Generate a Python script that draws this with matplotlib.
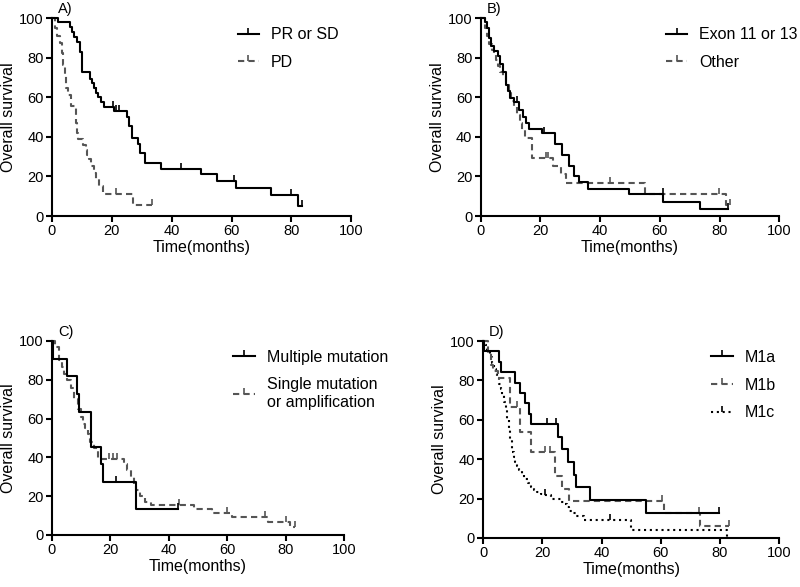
import numpy as np
import matplotlib
matplotlib.use('Agg')
import matplotlib.pyplot as plt
from matplotlib.lines import Line2D

plt.rcParams['font.family'] = ['Liberation Sans', 'DejaVu Sans']

# Panel A: response
a_pr_t = [0, 1.9, 6.1, 6.8, 7.5, 8.3, 9.2, 10.0, 12.8, 13.4, 14.0, 14.6, 15.5, 16.5, 17.5, 20.7,
          25.1, 25.7, 26.9, 28.7, 29.5, 31.0, 36.3, 49.7, 55.0, 61.5, 73.2, 82.3]
a_pr_s = [100, 98.3, 95.5, 93, 90.5, 88, 83, 72.6, 69.5, 67, 64.5, 62, 60, 57.5, 55, 53.3,
          50, 45.5, 39.5, 36.5, 31.9, 26.9, 23.9, 21, 17.6, 14.3, 10.6, 5.2]
a_pr_c = [14.8, 20.5, 21.3, 22.3, 43.2, 60.9, 79.9, 83.5]
a_pd_t = [0, 0.9, 1.7, 2.6, 3.2, 3.7, 4.2, 4.8, 5.3, 6.4, 7.9, 8.4, 8.8, 10.3, 11.2, 11.8,
          12.3, 13.1, 14.0, 14.8, 15.7, 17.0, 27.2]
a_pd_s = [100, 95, 91, 87.4, 82.4, 76.5, 70.6, 64.7, 61.3, 55.5, 47, 42, 38.7, 36, 33.6, 31,
          28.6, 25.2, 21.8, 18.5, 15, 10.9, 5.5]
a_pd_c = [21.5, 33.3]

# Panel B: exon
b_ex_t = [0, 1.3, 2.2, 2.8, 3.4, 4.5, 5.8, 6.5, 7.3, 8.4, 9.0, 9.8, 11.2, 12.9, 14.3, 15.1,
          16.2, 20.4, 24.8, 27.1, 29.4, 31.3, 32.8, 36.0, 49.6, 61.2, 73.3]
b_ex_s = [100, 98, 95, 90, 86, 83.5, 81, 77, 72.6, 66, 63, 59.5, 57.5, 53.5, 50, 47,
          44.2, 41.8, 36.5, 30.9, 25.2, 20.2, 17.1, 13.8, 11, 7.2, 3.5]
b_ex_c = [12.0, 21.2, 61.0, 83.0]
b_ot_t = [0, 1.5, 2.2, 2.9, 3.6, 4.4, 5.0, 5.8, 6.6, 7.6, 8.5, 9.5, 10.2, 11.1, 12.0, 13.0,
          13.8, 14.8, 17.0, 24.1, 26.9, 28.6, 55.0, 82.2]
b_ot_s = [100, 95, 91, 87, 84, 82, 79, 76, 73, 70.6, 66, 62, 58, 55, 51, 47,
          43.4, 39.5, 29.4, 25.2, 21, 16.8, 11.3, 5.6]
b_ot_c = [22.0, 22.6, 43.3, 55.0, 79.9, 83.6]

# Panel C: mutation
c_mu_t = [0, 0.5, 5.0, 8.4, 9.1, 13.3, 16.7, 17.3, 28.6]
c_mu_s = [100, 90.9, 81.8, 72.7, 63.6, 45.5, 36.4, 27.3, 13.6]
c_mu_c = [21.8, 43.2]
c_si_t = [0, 1.1, 2.5, 3.3, 4.2, 5.3, 6.5, 7.7, 8.75, 9.9, 10.5, 11.4, 12.2, 13.0, 14.4, 15.9,
          24.7, 25.8, 27.0, 28.0, 28.9, 30.3, 32.0, 33.8, 48.5, 54.8, 61.6, 74.1, 81.5]
c_si_s = [100, 97, 90, 86.5, 83, 80, 76, 70, 65, 61, 57, 55, 52, 48, 45, 39.3,
          36.8, 33.3, 29.9, 26.5, 23.4, 20, 17, 15.4, 13.6, 11.4, 9.1, 6.8, 3.9]
c_si_c = [19.4, 21.0, 22.2, 43.4, 60.0, 73.0, 80.0, 83.2]

# Panel D: M stage
d_a_t = [0, 0.2, 5.3, 6.1, 10.9, 12.6, 14.0, 15.4, 16.0, 25.3, 26.6, 28.8, 30.6, 31.5, 36.0, 54.9]
d_a_s = [100, 94.7, 89.5, 84.2, 78.9, 73.7, 68.4, 63.2, 57.9, 51.5, 45.1, 38.6, 32.2, 25.8, 19.3, 12.9]
d_a_c = [21.6, 24.7, 79.7]
d_b_t = [0, 1.6, 2.5, 3.4, 5.0, 9.2, 12.6, 16.3, 24.3, 26.6, 29.0, 61.0, 73.3]
d_b_s = [100, 94, 88, 85, 81.3, 66.7, 53.8, 43.5, 31.5, 25, 18.8, 12.5, 6.3]
d_b_c = [11.5, 21.0, 22.5, 60.5, 73.0, 83.2]
d_c_t = [0, 0.7, 1.4, 2.2, 3.0, 3.6, 4.2, 4.8, 5.3, 5.9, 6.4, 7.0, 7.6, 8.2, 8.7, 9.2, 9.8,
         10.4, 10.9, 11.5, 12.1, 13.0, 13.8, 15.0, 16.0, 17.2, 18.3, 19.4, 20.5, 22.8, 26.2,
         27.3, 28.2, 29.0, 30.1, 31.2, 34.0, 49.8, 82.3]
d_c_s = [100, 98, 95.4, 92, 88.6, 86, 83.5, 81, 78.4, 75.5, 72.5, 69, 64.9, 60, 54.7, 49.6, 43.6,
         41, 38.5, 36.5, 34.3, 32, 30, 27.8, 25.8, 24.5, 23.3, 22.5, 21.6, 19.9, 18.5,
         17.3, 15.5, 13.9, 12.5, 11.4, 9.3, 4.2, 0]
d_c_c = [21.0, 43.0]

ticks = [0, 20, 40, 60, 80, 100]

SOLID = dict(color='black', ls='-', lw=1.5)
DASHED = dict(color='#555555', ls=(0, (3, 2)), lw=1.5)
DOTTED = dict(color='black', ls=(0, (1, 1.8)), lw=1.5)


def draw_km(ax, t, s, cens, style):
    # extend the last step to the last censored time
    end = max(max(t), max(cens))
    tt = list(t) + [end]
    ss = list(s) + [s[-1]]
    ax.plot(tt, ss, drawstyle='steps-post', clip_on=False, **style)
    idx = np.searchsorted(t, cens, side='right') - 1
    cy = np.array(s)[idx]
    ax.plot(cens, cy, ls='none', marker=2, ms=4.5, mew=1.2, color=style['color'], clip_on=False)


def setup(ax, letter):
    ax.set_xlim(0, 100)
    ax.set_ylim(0, 100)
    ax.set_xticks(ticks)
    ax.set_yticks(ticks)
    ax.spines['top'].set_visible(False)
    ax.spines['right'].set_visible(False)
    for sp in ('left', 'bottom'):
        ax.spines[sp].set_linewidth(1.5)
    ax.tick_params(direction='out', length=4, width=1.5, labelsize=10.5, pad=2)
    ax.set_xlabel('Time(months)', fontsize=11.5, labelpad=1)
    ax.set_ylabel('Overall survival', fontsize=11.5, labelpad=2)
    ax.text(0.02, 1.012, letter, transform=ax.transAxes, fontsize=10.5, va='bottom', ha='left')


def legend(ax, styles, labels, x, y):
    handles = [Line2D([], [], marker=2, ms=4, mew=1.2, **st) for st in styles]
    ax.legend(handles, labels, loc='upper left', bbox_to_anchor=(x, y), frameon=False,
              fontsize=11.5, handlelength=1.35, handletextpad=0.75, labelspacing=0.8,
              borderpad=0, borderaxespad=0, numpoints=1)


fig = plt.figure(figsize=(8, 5.87), dpi=100)
axA = fig.add_axes([0.065, 0.632, 0.374, 0.337])
axB = fig.add_axes([0.601, 0.632, 0.373, 0.337])
axC = fig.add_axes([0.065, 0.0886, 0.365, 0.3305])
axD = fig.add_axes([0.604, 0.0835, 0.370, 0.3355])

draw_km(axA, a_pd_t, a_pd_s, a_pd_c, DASHED)
draw_km(axA, a_pr_t, a_pr_s, a_pr_c, SOLID)
setup(axA, 'A)')
legend(axA, [SOLID, DASHED], ['PR or SD', 'PD'], 0.62, 0.955)

draw_km(axB, b_ot_t, b_ot_s, b_ot_c, DASHED)
draw_km(axB, b_ex_t, b_ex_s, b_ex_c, SOLID)
setup(axB, 'B)')
legend(axB, [SOLID, DASHED], ['Exon 11 or 13', 'Other'], 0.62, 0.955)

draw_km(axC, c_si_t, c_si_s, c_si_c, DASHED)
draw_km(axC, c_mu_t, c_mu_s, c_mu_c, SOLID)
setup(axC, 'C)')
legend(axC, [SOLID, DASHED], ['Multiple mutation', 'Single mutation\nor amplification'], 0.62, 0.955)

draw_km(axD, d_c_t, d_c_s, d_c_c, DOTTED)
draw_km(axD, d_b_t, d_b_s, d_b_c, DASHED)
draw_km(axD, d_a_t, d_a_s, d_a_c, SOLID)
setup(axD, 'D)')
legend(axD, [SOLID, DASHED, DOTTED], ['M1a', 'M1b', 'M1c'], 0.77, 0.955)

fig.savefig('out.png', dpi=100)
